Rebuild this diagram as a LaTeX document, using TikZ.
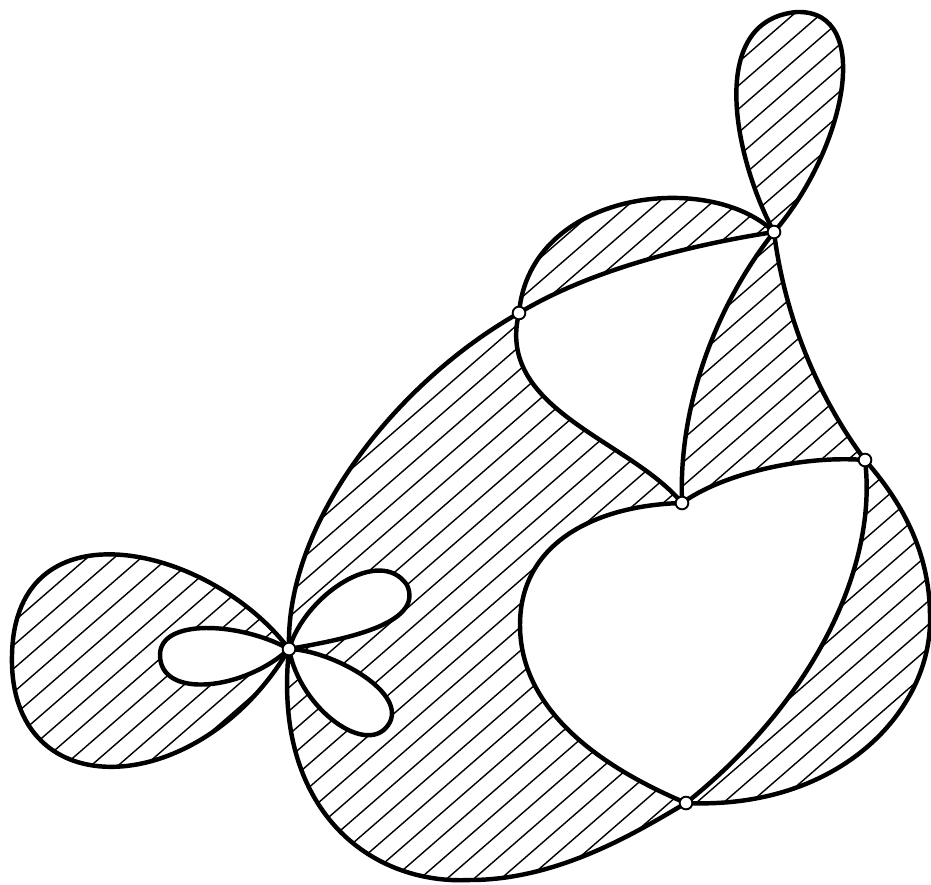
\documentclass[tikz,border=0pt]{standalone}
\usepackage{tikz}

\begin{document}
\begin{tikzpicture}[x=0.03cm, y=-0.03cm,
  edge/.style={line width=3.8pt, line cap=round, line join=round},
  hatchline/.style={line width=1.2pt},
  petal/.style={edge, fill=white},
  vertex/.style={circle, draw, fill=white, line width=1.6pt, inner sep=0pt, minimum size=0.38cm}]
\useasboundingbox (0,0) rectangle (931,884);
\coordinate (A) at (289,649);
\coordinate (B) at (519,313);
\coordinate (C) at (774,232);
\coordinate (D) at (682,503);
\coordinate (E) at (865,460);
\coordinate (F) at (686,803);
% hatched faces
\begin{scope}
\clip (C) .. controls (735,160) and (705,20) .. (797,12) .. controls (875,10) and (845,150) .. (C) -- cycle
  (B) .. controls (530,190) and (710,170) .. (C) .. controls (690,245) and (590,270) .. (B) -- cycle
  (C) .. controls (720,300) and (678,400) .. (D) .. controls (720,475) and (800,455) .. (E)
      .. controls (820,400) and (785,320) .. (C) -- cycle
  (E) .. controls (878,565) and (815,700) .. (F) .. controls (840,810) and (932,710) .. (930,617)
      .. controls (930,550) and (900,500) .. (E) -- cycle
  (A) .. controls (285,520) and (400,380) .. (B) .. controls (495,410) and (630,440) .. (D)
      .. controls (600,505) and (520,540) .. (520,625) .. controls (520,720) and (620,775) .. (F)
      .. controls (640,830) and (560,880) .. (470,880) .. controls (370,885) and (272,810) .. (A) -- cycle
  (A) .. controls (210,545) and (15,500) .. (12,655) .. controls (8,810) and (200,800) .. (A) -- cycle;
\foreach \c in {0,27,...,1980}
  \draw[hatchline] (\c,0) -- (\c-1100,956);
\end{scope}
% petals round A
\draw[petal] (A) .. controls (240,622) and (160,618) .. (160,655) .. controls (160,700) and (245,690) .. (A);
\draw[petal] (A) .. controls (305,595) and (380,545) .. (407,585) .. controls (425,625) and (340,640) .. (A);
\draw[petal] (A) .. controls (300,710) and (370,760) .. (390,722) .. controls (405,690) and (330,650) .. (A);
% loops
\draw[edge] (C) .. controls (735,160) and (705,20) .. (797,12) .. controls (875,10) and (845,150) .. (C);
\draw[edge] (A) .. controls (210,545) and (15,500) .. (12,655) .. controls (8,810) and (200,800) .. (A);
% edges
\draw[edge] (A) .. controls (285,520) and (400,380) .. (B);
\draw[edge] (A) .. controls (272,810) and (370,885) .. (470,880) .. controls (560,880) and (640,830) .. (F);
\draw[edge] (B) .. controls (530,190) and (710,170) .. (C);
\draw[edge] (B) .. controls (590,270) and (690,245) .. (C);
\draw[edge] (B) .. controls (495,410) and (630,440) .. (D);
\draw[edge] (C) .. controls (720,300) and (678,400) .. (D);
\draw[edge] (C) .. controls (785,320) and (820,400) .. (E);
\draw[edge] (D) .. controls (720,475) and (800,455) .. (E);
\draw[edge] (D) .. controls (600,505) and (520,540) .. (520,625) .. controls (520,720) and (620,775) .. (F);
\draw[edge] (E) .. controls (878,565) and (815,700) .. (F);
\draw[edge] (E) .. controls (900,500) and (930,550) .. (930,617) .. controls (932,710) and (840,810) .. (F);
% vertices
\foreach \v/\n in {A/a,B/b,C/c,D/d,E/e,F/f}
  \node[vertex] (\n) at (\v) {};
\end{tikzpicture}
\end{document}
